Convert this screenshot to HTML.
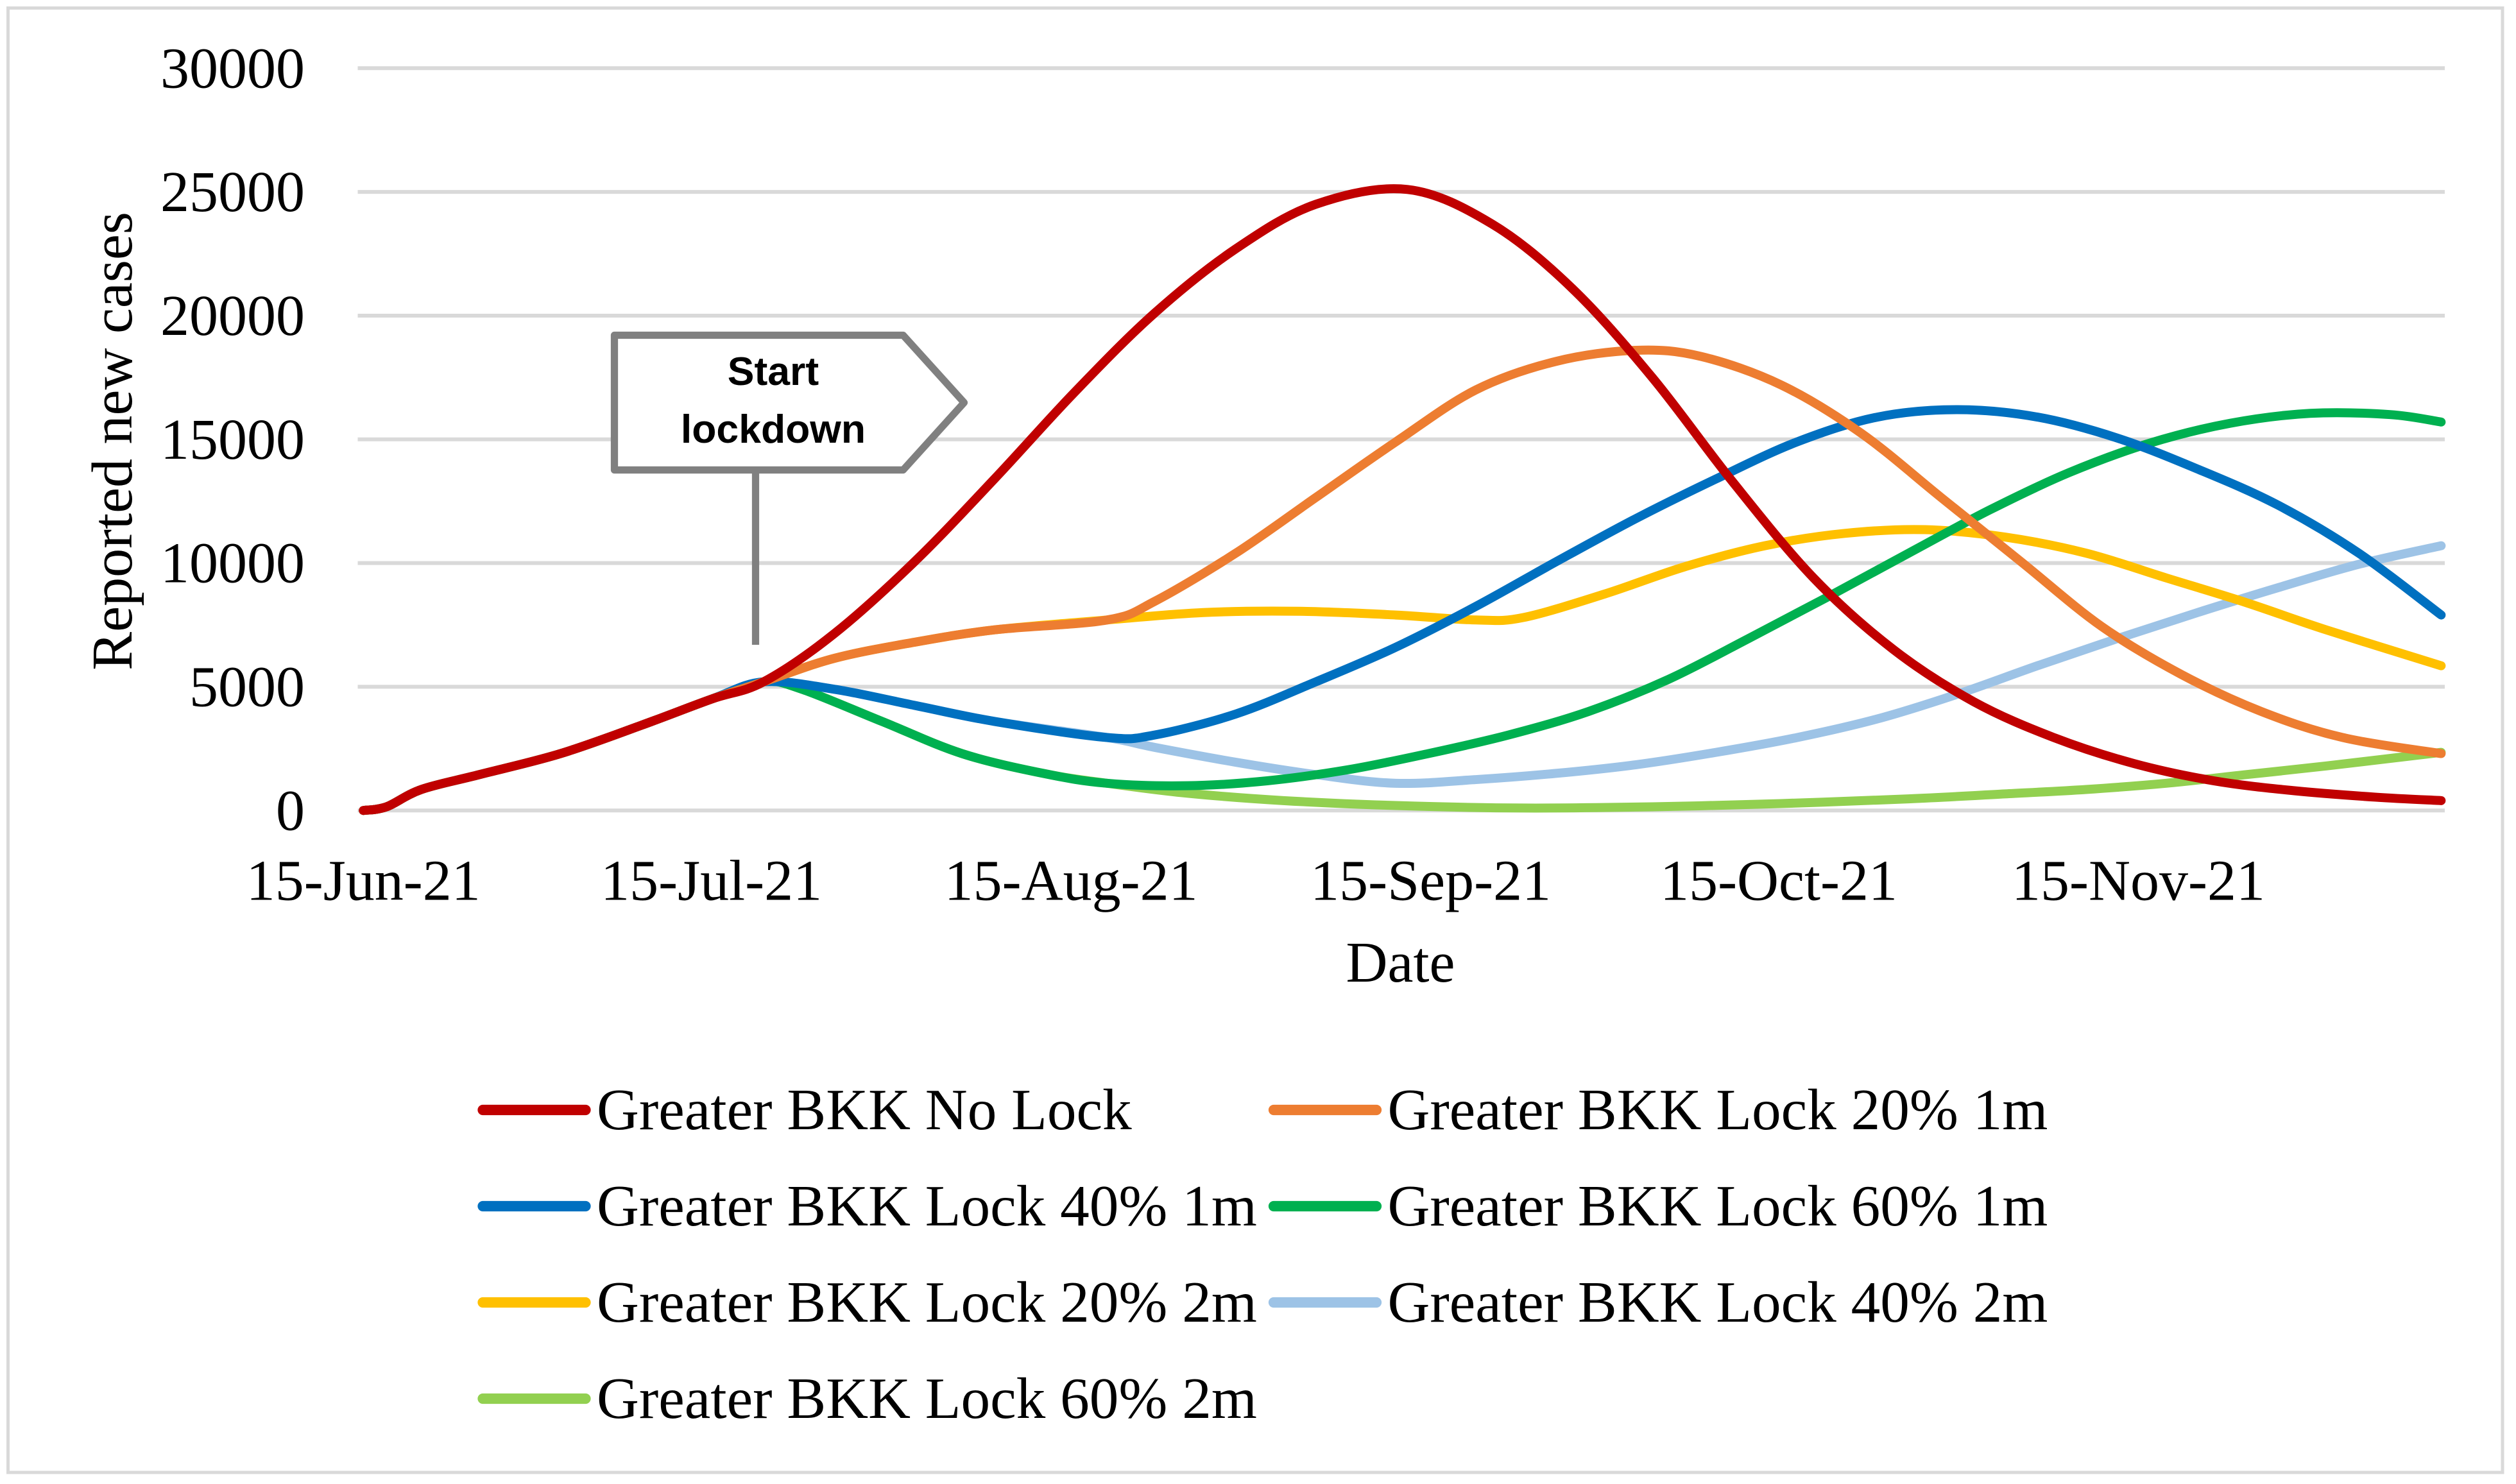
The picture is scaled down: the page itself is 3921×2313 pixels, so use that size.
<!DOCTYPE html>
<html><head><meta charset="utf-8"><style>
html,body{margin:0;padding:0;background:#fff;}
svg{display:block;}
text{font-family:"Liberation Serif",serif;fill:#000;}
.callout{font-family:"Liberation Sans",sans-serif;font-weight:bold;}
</style></head><body>
<svg id="chart" width="3921" height="2313" viewBox="0 0 1568.4 925.2" xmlns="http://www.w3.org/2000/svg">
<rect x="5" y="5" width="1555" height="913" fill="#fff" stroke="#d9d9d9" stroke-width="2"/>
<g id="grid"></g>
<g id="yticks"></g>
<g id="xticks"></g>
<text transform="translate(82,275) rotate(-90)" text-anchor="middle" font-size="36">Reported new cases</text>
<text x="873" y="612" text-anchor="middle" font-size="36">Date</text>
<g id="series"></g>
<g>
<polygon points="383,209 563,209 601,251 563,293 383,293" fill="#fff" stroke="#808080" stroke-width="4.5" stroke-linejoin="round"/>
<line x1="471" y1="293" x2="471" y2="402" stroke="#808080" stroke-width="4.5"/>
<text class="callout" x="482" y="240" text-anchor="middle" font-size="25">Start</text>
<text class="callout" x="482" y="276" text-anchor="middle" font-size="25">lockdown</text>
</g>
<g id="legend"></g>
</svg>
<script>
const yTicks=[0,5000,10000,15000,20000,25000,30000];
const xTickLabels=["15-Jun-21","15-Jul-21","15-Aug-21","15-Sep-21","15-Oct-21","15-Nov-21"];
const xTickDays=[0,30,61,92,122,153];
const seriesNames=["Greater BKK No Lock","Greater BKK Lock 20% 1m","Greater BKK Lock 40% 1m","Greater BKK Lock 60% 1m","Greater BKK Lock 20% 2m","Greater BKK Lock 40% 2m","Greater BKK Lock 60% 2m"];
const seriesColors=["#c00000","#ed7d31","#0070c0","#00b050","#ffc000","#9dc3e6","#92d050"];
const commonDays=[0,2,5,10,17,24,30,34.5];
const commonVals=[0,150,850,1450,2300,3450,4500,5200];
const yellowEarlyDays=[40.6,47.5,54.4,64.1];
const yellowEarlyVals=[6150,6800,7300,7700];
const lblueEarlyDays=[40.6,47.5,54.4,64.1];
const lblueEarlyVals=[4900,4250,3600,2950];
const lgreenEarlyDays=[37.8,44.7,51.6,58.6,64.1];
const lgreenEarlyVals=[4900,3600,2300,1500,1100];
const redDays=[40.6,47.5,54.4,61.3,68.2,75.2,82.1,90,97.3,104.2,111.1,118,125,131.9,138.8,145.7,152.6,159.5,166.4,173.4,179.1];
const redVals=[7150,10050,13400,16900,20100,22700,24500,25100,23700,21100,17500,13300,9400,6500,4400,2950,1900,1200,800,540,400];
const orangeDays=[68.2,75.2,82.1,89,95.9,102.8,109.7,115.3,122.2,129.1,136,142.9,149.8,156.7,163.6,170.6,179.1];
const orangeVals=[8450,10400,12650,14900,17000,18150,18600,18350,17200,15250,12650,10050,7450,5500,4000,2950,2300];
const blueDays=[68.2,75.2,82.1,89,95.9,102.8,109.7,116.6,123.6,130.5,137.4,144.3,151.2,158.1,165,172,179.1];
const blueVals=[3050,3900,5200,6600,8250,10050,11800,13400,14900,15900,16200,15900,15050,13800,12350,10400,7900];
const greenDays=[71,77.9,84.9,91.8,98.7,105.6,112.5,119.4,126.3,133.2,140.2,147,154,160.9,167.8,174.7,179.1];
const greenVals=[1000,1200,1650,2300,3050,4000,5300,6950,8650,10400,12150,13650,14850,15650,16050,16000,15700];
const yellowDays=[72.4,80.7,89,95.9,100,107,113.9,120.8,127.7,134.6,141.5,148.5,155.4,162.3,169.2,179.1];
const yellowVals=[8000,8050,7900,7700,7800,8750,9850,10700,11200,11350,11050,10400,9400,8400,7300,5850];
const lblueDays=[68.2,75.2,82.1,89,95.9,102.8,109.7,116.6,123.6,130.5,137.4,144.3,151.2,158.1,165,172,179.1];
const lblueVals=[2550,1950,1450,1100,1250,1500,1850,2350,2950,3700,4700,5850,6950,8000,9000,9950,10700];
const lgreenDays=[71,79.3,89,100,111.1,122.2,133.2,141.5,148.5,155.4,162.3,169.2,179.1];
const lgreenVals=[700,400,200,100,150,280,470,670,850,1100,1450,1800,2350];

const NS="http://www.w3.org/2000/svg";
const X0=226.5, PXD=7.232, Y0=505.3, PXV=77.13/5000;
function xs(d){return X0+d*PXD;}
function ys(v){return Y0-v*PXV;}
function mk(tag,attrs,parent){const e=document.createElementNS(NS,tag);for(const k in attrs)e.setAttribute(k,attrs[k]);parent.appendChild(e);return e;}
const grid=document.getElementById('grid'),yt=document.getElementById('yticks'),xt=document.getElementById('xticks');
yTicks.forEach(v=>{
  const l=mk('line',{x1:223,x2:1524,y1:ys(v),y2:ys(v),stroke:'#d9d9d9','stroke-width':2.4},grid);
  
  
  const t=mk('text',{x:190,y:ys(v)+12,'text-anchor':'end','font-size':36},yt);
  t.textContent=v;
  
  
});
xTickLabels.forEach((s,i)=>{
  const t=mk('text',{x:xs(xTickDays[i]),y:561,'text-anchor':'middle','font-size':36},xt);
  t.textContent=s;
  
  
});
function join(){let d=[],v=[];for(let i=0;i<arguments.length;i+=2){d=d.concat(arguments[i]);v=v.concat(arguments[i+1]);}return [d,v];}
const allSeries=[
  join(commonDays,commonVals,redDays,redVals),
  join(commonDays,commonVals,yellowEarlyDays,yellowEarlyVals,orangeDays,orangeVals),
  join(commonDays,commonVals,lblueEarlyDays,lblueEarlyVals,blueDays,blueVals),
  join(commonDays,commonVals,lgreenEarlyDays,lgreenEarlyVals,greenDays,greenVals),
  join(commonDays,commonVals,yellowEarlyDays,yellowEarlyVals,yellowDays,yellowVals),
  join(commonDays,commonVals,lblueEarlyDays,lblueEarlyVals,lblueDays,lblueVals),
  join(commonDays,commonVals,lgreenEarlyDays,lgreenEarlyVals,lgreenDays,lgreenVals)
];
function smooth(pts){
  let d='M'+pts[0][0].toFixed(2)+','+pts[0][1].toFixed(2);
  for(let i=0;i<pts.length-1;i++){
    const p0=pts[i-1]||pts[i],p1=pts[i],p2=pts[i+1],p3=pts[i+2]||p2;
    const c1=[p1[0]+(p2[0]-p0[0])/6,p1[1]+(p2[1]-p0[1])/6];
    const c2=[p2[0]-(p3[0]-p1[0])/6,p2[1]-(p3[1]-p1[1])/6];
    d+=' C'+c1.map(n=>n.toFixed(2)).join(',')+' '+c2.map(n=>n.toFixed(2)).join(',')+' '+p2[0].toFixed(2)+','+p2[1].toFixed(2);
  }
  return d;
}
const sg=document.getElementById('series');
const order=[6,5,4,3,2,1,0];
order.forEach(i=>{
  const [d,v]=allSeries[i];
  const pts=d.map((dd,j)=>[xs(dd),ys(v[j])]);
  const p=mk('path',{d:smooth(pts),fill:'none',stroke:seriesColors[i],'stroke-width':5.6,'stroke-linecap':'round','stroke-linejoin':'round'},sg);
  
  
});
const lg=document.getElementById('legend');
seriesNames.forEach((n,i)=>{
  const col=i%2, row=Math.floor(i/2);
  const sx=col?791:298, y=692+row*60;
  const g=mk('g',{},lg);
  
  
  const l=mk('line',{x1:sx+3,x2:sx+67,y1:y,y2:y,stroke:seriesColors[i],'stroke-width':6.5,'stroke-linecap':'round'},g);
  
  
  const t=mk('text',{x:sx+74,y:y+12,'font-size':36.5},g);
  t.textContent=n;
  
  
});
</script>
</body></html>
